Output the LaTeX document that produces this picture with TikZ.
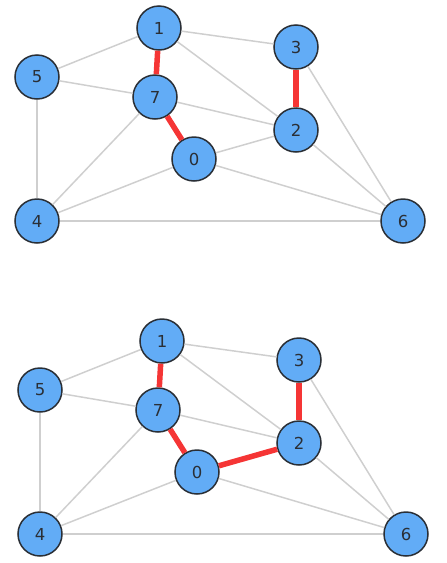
\documentclass[tikz,border=0pt]{standalone}
\usepackage{fontspec}
\setmainfont{DejaVu Sans}
\usepackage{xcolor}
\usepackage{tikz}
\definecolor{vblue}{HTML}{62ACF6}
\definecolor{vline}{HTML}{CFCFCF}
\definecolor{vred}{HTML}{F53535}
\definecolor{vink}{HTML}{2A2F36}

\begin{document}
\begin{tikzpicture}[x=1pt,y=-1pt,font=\fontsize{16.5}{18}\selectfont]
\tikzset{
  vert/.style={circle,draw=vink,line width=1.5pt,fill=vblue,text=vink,minimum size=44pt,inner sep=0pt},
  edge/.style={draw=vline,line width=1.5pt},
  hot/.style={draw=vred,line width=5.5pt}
}
\useasboundingbox (0,0) rectangle (447,563);
\foreach \g/\dx/\dy in {a/0/0,b/3/313}{
\begin{scope}[shift={(\dx,\dy)},name prefix=\g-]
\node(1)[vert] at (159,28){1};
\node(3)[vert] at (296,47){3};
\node(5)[vert] at (37,77){5};
\node(7)[vert] at (155,97){7};
\node(2)[vert] at (296,130){2};
\node(0)[vert] at (194,159){0};
\node(4)[vert] at (37,221){4};
\node(6)[vert] at (403,221){6};
% grey edges
\foreach \u/\v in {1/5,1/3,1/2,5/7,5/4,7/2,7/4,0/4,0/2,0/6,2/6,3/6,4/6}
  \draw[edge](\u)--(\v);
% chosen edges
\draw[hot](1)--(7); \draw[hot](7)--(0); \draw[hot](3)--(2);
\end{scope}
}
\draw[hot](b-0)--(b-2);
\end{tikzpicture}
\end{document}
